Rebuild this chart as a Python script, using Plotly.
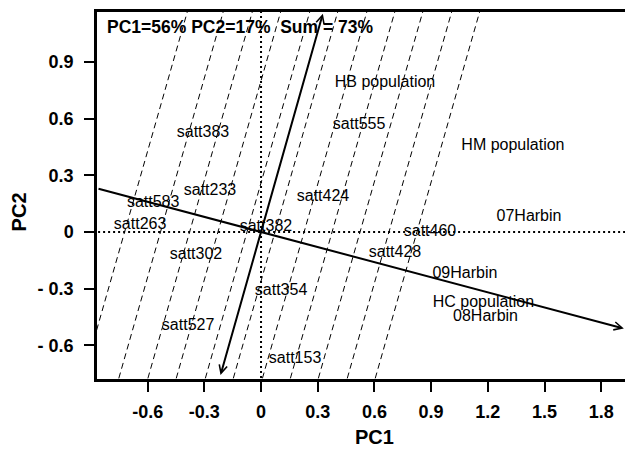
import numpy as np
import plotly.graph_objects as go

# ---------------- data ----------------
x_ticks = [-0.6, -0.3, 0, 0.3, 0.6, 0.9, 1.2, 1.5, 1.8]
x_tick_labels = ["-0.6", "-0.3", "0", "0.3", "0.6", "0.9", "1.2", "1.5", "1.8"]
y_ticks = [-0.6, -0.3, 0, 0.3, 0.6, 0.9]
y_tick_labels = ["- 0.6", "- 0.3", "0", "0.3", "0.6", "0.9"]

label_names = ["HB population", "HM population", "07Harbin", "satt460", "satt428",
               "09Harbin", "HC population", "08Harbin", "satt555", "satt383",
               "satt233", "satt424", "satt583", "satt263", "satt382", "satt302",
               "satt354", "satt527", "satt153"]
label_x = [0.656, 1.333, 1.418, 0.894, 0.709, 1.079, 1.177, 1.188, 0.519, -0.307,
           -0.270, 0.328, -0.571, -0.640, 0.026, -0.344, 0.106, -0.386, 0.180]
label_y = [0.788, 0.455, 0.079, 0.0, -0.111, -0.222, -0.374, -0.451, 0.566, 0.525,
           0.219, 0.187, 0.153, 0.037, 0.028, -0.122, -0.311, -0.496, -0.672]

# ATC abscissa (mean axis) slope and end, ordinate slope
atc_slope = -0.266
atc_x_start, atc_x_end = -0.868, 1.92
ord_slope = 3.53
ord_y_start, ord_y_end = -0.765, 1.155

# dashed lines: x-intercepts at PC2 = 0, with common slope
dash_x0 = [-0.722, -0.532, -0.378, -0.228, -0.074, 0.074, 0.228, 0.376, 0.524, 0.677, 0.825]
dash_slope = 3.51

title_text = "PC1=56% PC2=17%  Sum = 73%"

x_range = [-0.868, 1.926]
y_range = [-0.778, 1.164]

FONT = "Liberation Sans, Arial, Helvetica, sans-serif"

fig = go.Figure()

# dashed parallel lines
for x0 in dash_x0:
    ys = np.array([y_range[0] - 0.2, y_range[1] + 0.2])
    xs = x0 + ys / dash_slope
    fig.add_trace(go.Scatter(x=xs, y=ys, mode="lines",
                             line=dict(color="black", width=1, dash="6px,4px"),
                             hoverinfo="skip", showlegend=False))

# dotted reference lines through origin
fig.add_trace(go.Scatter(x=[x_range[0] - 0.1, x_range[1] + 0.1], y=[0, 0], mode="lines",
                         line=dict(color="black", width=2, dash="2px,3px"),
                         hoverinfo="skip", showlegend=False))
fig.add_trace(go.Scatter(x=[0, 0], y=[y_range[0] - 0.1, y_range[1] + 0.1], mode="lines",
                         line=dict(color="black", width=2, dash="2px,3px"),
                         hoverinfo="skip", showlegend=False))

# labels
fig.add_trace(go.Scatter(x=label_x, y=label_y, mode="text", text=label_names,
                         textposition="middle center",
                         textfont=dict(family=FONT, size=16, color="black"),
                         hoverinfo="skip", showlegend=False))

annotations = []
# ATC arrow
annotations.append(dict(x=atc_x_end, y=atc_slope * atc_x_end,
                        ax=atc_x_start, ay=atc_slope * atc_x_start,
                        xref="x", yref="y", axref="x", ayref="y",
                        showarrow=True, arrowhead=5, arrowsize=0.8, arrowwidth=2,
                        arrowcolor="black", text=""))
# ordinate double arrow
annotations.append(dict(x=ord_y_end / ord_slope, y=ord_y_end,
                        ax=ord_y_start / ord_slope, ay=ord_y_start,
                        xref="x", yref="y", axref="x", ayref="y",
                        showarrow=True, arrowhead=5, startarrowhead=5,
                        arrowside="end+start", arrowsize=0.8, startarrowsize=0.8,
                        arrowwidth=2, arrowcolor="black", text=""))
# stats text
annotations.append(dict(x=0.015, y=0.959, xref="paper", yref="paper",
                        xanchor="left", yanchor="middle", showarrow=False,
                        text="<b>" + title_text + "</b>",
                        font=dict(family=FONT, size=17.5, color="black")))
# axis titles
annotations.append(dict(x=0.5265, y=-0.158, xref="paper", yref="paper",
                        xanchor="center", yanchor="middle", showarrow=False,
                        text="<b>PC1</b>", font=dict(family=FONT, size=20, color="black")))
annotations.append(dict(x=-0.147, y=0.455, xref="paper", yref="paper",
                        xanchor="center", yanchor="middle", showarrow=False, textangle=-90,
                        text="<b>PC2</b>", font=dict(family=FONT, size=20, color="black")))

fig.update_layout(
    width=625, height=450,
    margin=dict(l=97, r=0, t=12, b=71),
    paper_bgcolor="white", plot_bgcolor="white",
    annotations=annotations,
    showlegend=False,
    xaxis=dict(range=x_range, tickmode="array", tickvals=x_ticks, ticktext=x_tick_labels,
               showgrid=False, zeroline=False, showline=True, mirror=True,
               linecolor="black", linewidth=2.5, ticks="outside", ticklen=10,
               tickwidth=2, tickcolor="black", ticklabelstandoff=5,
               tickfont=dict(family=FONT, size=18, color="black", weight="bold")),
    yaxis=dict(range=y_range, tickmode="array", tickvals=y_ticks, ticktext=y_tick_labels,
               showgrid=False, zeroline=False, showline=True, mirror=False,
               linecolor="black", linewidth=2.5, ticks="outside", ticklen=10,
               tickwidth=2, tickcolor="black", ticklabelstandoff=7,
               tickfont=dict(family=FONT, size=18, color="black", weight="bold")),
)

fig.write_html("out.html", config={"displayModeBar": False},
               post_script="document.body.style.margin='0px';document.body.style.padding='0px';")
